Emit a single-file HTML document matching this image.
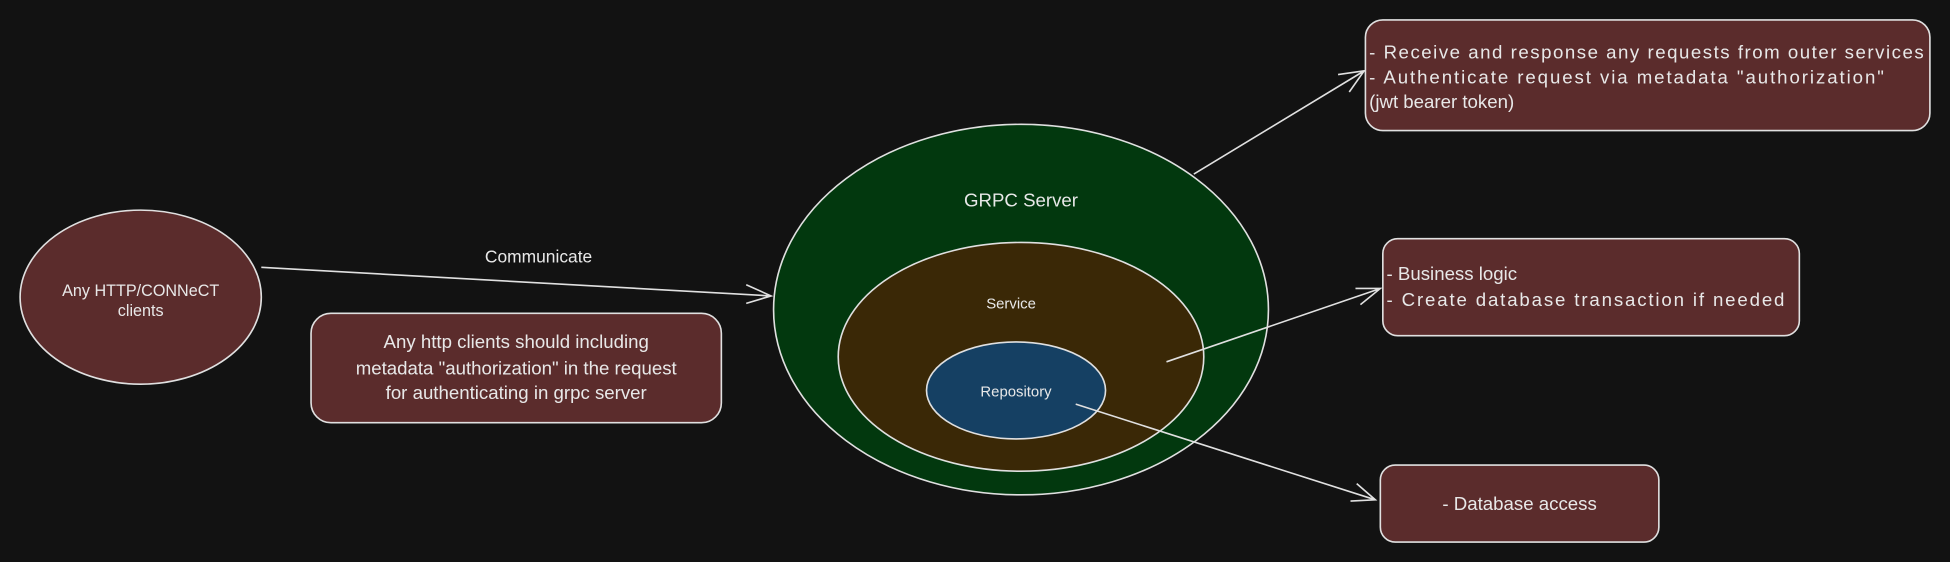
<!DOCTYPE html>
<html><head><meta charset="utf-8"><style>html,body{margin:0;padding:0;background:#121212;}svg{display:block}</style></head>
<body>
<svg width="1950" height="562" viewBox="0 0 1568 452" xmlns="http://www.w3.org/2000/svg" font-family="Liberation Sans, sans-serif" fill="#e8e8e8">
<rect width="1568" height="452" fill="#121212"/>
<g stroke="#e0e0e0" stroke-width="1.3">
<ellipse cx="113" cy="239" rx="97" ry="70" fill="#5b2c2c"/>
<rect x="250" y="252" width="330" height="88" rx="16" fill="#5b2c2c"/>
<ellipse cx="821" cy="249" rx="199" ry="149" fill="#02380e"/>
<ellipse cx="821" cy="287" rx="147" ry="92" fill="#3a2806"/>
<ellipse cx="817" cy="314" rx="72" ry="39" fill="#154063"/>
<rect x="1098" y="16" width="454" height="89" rx="14" fill="#5b2c2c"/>
<rect x="1112" y="192" width="335" height="78" rx="12" fill="#5b2c2c"/>
<rect x="1110" y="374" width="224" height="62" rx="12" fill="#5b2c2c"/>
<g fill="none">
<path d="M210 215 L620 238 M600 229 L620 238 L600 244"/>
<path d="M960 140 L1097 57 M1076 60 L1097 57 L1085 74"/>
<path d="M938 291 L1110 232 M1090 232 L1110 232 L1094 245"/>
<path d="M865 325 L1106 402 M1086 403 L1106 402 L1091 389"/>
</g>
</g>
<g font-size="13" text-anchor="middle">
<text x="113" y="238">Any HTTP/CONNeCT</text>
<text x="113" y="254">clients</text>
<text x="433" y="211" font-size="14">Communicate</text>
<text x="415" y="280" font-size="15">Any  http clients  should including</text>
<text x="415" y="301" font-size="15">metadata "authorization" in the request</text>
<text x="415" y="321" font-size="15">for authenticating in grpc server</text>
<text x="821" y="166" font-size="15">GRPC Server</text>
<text x="813" y="248" font-size="12">Service</text>
<text x="817" y="319" font-size="12">Repository</text>
<text x="1222" y="410" font-size="15">- Database access</text>
</g>
<g font-size="15">
<text x="1101" y="47" textLength="446">- Receive and response any requests from outer services</text>
<text x="1101" y="67" textLength="414">- Authenticate request via metadata "authorization"</text>
<text x="1101" y="87">(jwt bearer token)</text>
<text x="1115" y="225">- Business logic</text>
<text x="1115" y="246" textLength="320">- Create database transaction if needed</text>
</g>
</svg>
</body></html>
